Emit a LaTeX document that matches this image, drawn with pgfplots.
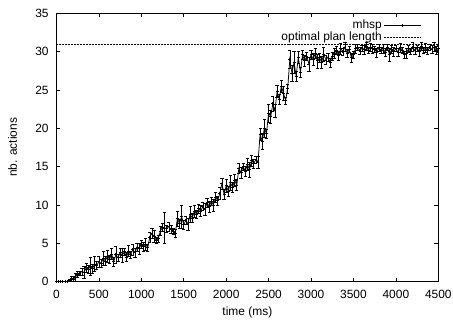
\documentclass[border=0pt]{standalone}
\usepackage{pgfplots}
\pgfplotsset{compat=1.18}
\usepackage{pgfplotstable}
\usepackage{fontspec}
\setmainfont{Liberation Sans}
\pgfplotstableread{
x y e
0 0 0
25 0 0
50 0 0
75 0 0
100 0 0
125 0 0
150 0.1 0.2
175 0.4 0.3
200 0.3 0.4
225 0.6 0.5
250 1.0 0.4
275 1.1 0.3
300 1.3 0.5
325 1.2 0.8
350 1.8 0.6
375 1.6 0.5
400 2.0 1.2
425 1.7 0.6
450 2.3 1.0
475 2.1 0.5
500 2.6 0.7
525 2.4 0.5
550 3.0 0.9
575 2.7 0.6
600 3.3 0.8
625 2.9 0.5
650 3.6 0.7
675 2.6 0.6
700 3.5 1.1
725 3.1 0.5
750 3.8 0.6
775 3.4 0.9
800 3.9 0.5
825 3.2 0.6
850 4.0 0.7
875 3.5 0.5
900 4.2 0.7
925 3.8 0.6
950 4.5 0.5
975 4.3 0.7
1000 4.9 0.5
1025 4.6 0.6
1050 4.9 0.8
1075 4.4 0.5
1100 5.8 0.6
1125 6.3 0.7
1150 5.9 0.8
1175 5.4 0.4
1200 5.6 0.5
1225 6.6 0.6
1250 7.1 0.5
1275 7.0 2.0
1300 6.9 0.5
1325 7.2 0.6
1350 6.8 0.5
1375 6.6 0.4
1400 6.3 0.5
1425 8.2 1.0
1450 7.6 0.6
1475 8.5 1.5
1500 7.4 0.6
1525 8.0 0.5
1550 7.5 0.8
1575 8.8 1.0
1600 8.3 0.6
1625 9.2 0.8
1650 8.8 0.5
1675 9.5 0.6
1700 9.2 0.7
1725 9.8 0.5
1750 9.4 0.8
1775 10.3 0.6
1800 9.8 0.7
1825 10.5 0.5
1850 10.0 0.8
1875 11.0 0.7
1900 10.6 0.6
1925 11.5 0.8
1950 12.8 0.7
1975 11.4 0.6
2000 12.5 0.8
2025 11.8 0.6
2050 12.9 1.0
2075 12.3 0.6
2100 13.2 0.8
2125 12.6 0.7
2150 14.8 0.6
2175 14.2 0.7
2200 15.0 0.5
2225 14.4 0.6
2250 15.3 0.8
2275 14.6 1.0
2300 15.8 0.7
2325 15.4 0.6
2350 15.9 0.5
2375 15.6 0.8
2400 19.2 0.8
2425 18.3 1.0
2450 20.0 1.2
2475 19.3 0.6
2500 22.0 1.2
2525 21.5 0.8
2550 23.2 1.0
2575 22.3 0.9
2600 24.8 0.8
2625 23.8 0.7
2650 25.5 0.8
2675 24.6 0.9
2700 23.6 0.5
2725 25.2 0.6
2750 29.0 1.2
2775 27.2 1.0
2800 28.6 1.4
2825 26.8 0.6
2850 29.3 0.8
2875 27.3 0.7
2900 29.6 0.6
2925 28.8 0.7
2950 29.4 0.5
2975 28.4 0.9
3000 29.6 0.6
3025 29.0 0.8
3050 29.8 0.7
3075 28.8 0.9
3100 29.2 0.6
3125 28.6 0.8
3150 29.7 0.9
3175 28.9 0.6
3200 29.3 0.5
3225 28.6 0.6
3250 29.4 0.5
3275 29.8 0.6
3300 30.2 0.5
3325 29.5 0.6
3350 30.4 0.7
3375 30.0 0.5
3400 30.6 0.6
3425 29.8 0.5
3450 30.3 0.4
3475 29.2 0.6
3500 29.6 0.5
3525 30.4 0.6
3550 30.6 0.4
3575 30.1 0.5
3600 30.5 0.4
3625 30.3 0.6
3650 30.7 0.5
3675 30.2 0.4
3700 30.6 0.5
3725 30.4 0.6
3750 30.3 0.4
3775 29.9 0.6
3800 30.5 0.5
3825 30.2 0.4
3850 30.4 0.6
3875 29.9 0.5
3900 30.6 0.4
3925 29.6 0.9
3950 30.3 0.5
3975 30.0 0.6
4000 30.4 0.4
4025 29.9 0.5
4050 30.5 0.6
4075 30.2 0.4
4100 29.6 0.5
4125 29.8 0.6
4150 30.4 0.5
4175 30.0 0.4
4200 30.6 0.6
4225 30.1 0.5
4250 30.5 0.4
4275 30.0 0.6
4300 30.7 0.5
4325 30.2 0.4
4350 30.5 0.6
4375 30.1 0.5
4400 30.6 0.4
4425 30.3 0.5
4450 30.6 0.6
4475 30.2 0.5
4500 30.4 0.5
}\mhsp
\begin{document}
\begin{tikzpicture}
\begin{axis}[
  at={(0,0)}, anchor=south west,
  scale only axis, width=382bp, height=268.4bp,
  xmin=0, xmax=4500, ymin=0, ymax=35,
  xtick={0,500,...,4500}, ytick={0,5,...,35},
  tick align=inside, major tick length=4bp,
  tick style={black, line width=0.6pt},
  axis line style={line width=0.8pt},
  /pgf/number format/1000 sep={},
  /pgf/number format/assume math mode=true,
  ticklabel style={font=\fontsize{12}{14}\selectfont},
  xticklabel style={inner sep=0pt, anchor=north, yshift=-8bp},
  yticklabel style={inner sep=0pt, anchor=east, xshift=-7.7bp},
  label style={font=\fontsize{12}{14}\selectfont},
  xlabel={time (ms)}, ylabel={nb. actions},
  xlabel style={at={([yshift=-31.3bp]axis description cs:0.5,0)}, anchor=center},
  ylabel style={at={([xshift=-44bp]axis description cs:0,0.5)}, anchor=center},
  legend style={draw=none, fill=none, inner sep=0pt,
    at={([xshift=-16.6bp, yshift=-6.5bp]axis description cs:1,1)}, anchor=north east,
    font=\fontsize{12}{14}\selectfont, row sep=0.6bp,
    nodes={inner xsep=2bp, inner ysep=0bp, text height=8.6bp, text depth=2.5bp}},
  legend cell align=right, legend plot pos=right,
]
\addplot[black, line width=0.75pt, mark=+, mark size=1.5pt,
  legend image code/.code={%
    \draw[black, line width=0.75pt] (0bp,0bp) -- (37bp,0bp);
    \draw[black, line width=0.6pt] (18.5bp,-1.6bp) -- (18.5bp,1.6bp) (17bp,0bp) -- (20bp,0bp);},
  error bars/.cd, y dir=both, y explicit,
  error bar style={black, line width=0.6pt},
  error mark options={black, rotate=90, mark size=1.6pt}]
  table[x=x, y=y, y error=e] {\mhsp};
\addlegendentry{mhsp}
\addplot[black, line width=0.7pt, dash pattern=on 2pt off 1pt,
  legend image code/.code={%
    \draw[black, line width=0.7pt, dash pattern=on 2pt off 1pt] (0bp,0bp) -- (37bp,0bp);}]
  coordinates {(0,31) (4500,31)};
\addlegendentry{optimal plan length}
\end{axis}
\pgfresetboundingbox
\path (-56.5bp,-38.3bp) rectangle (396.7bp,281.7bp);
\end{tikzpicture}
\end{document}
